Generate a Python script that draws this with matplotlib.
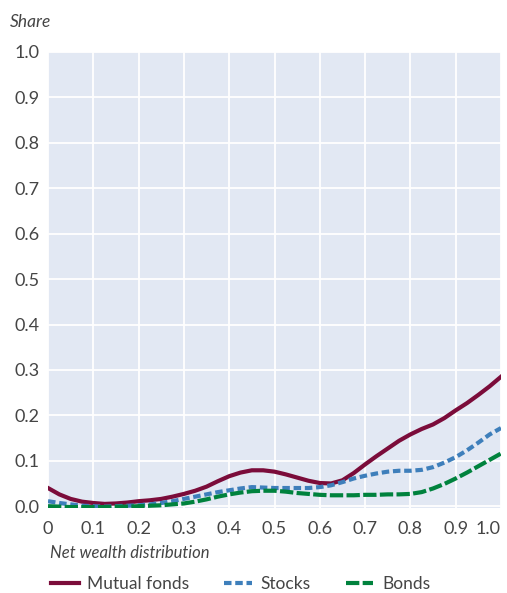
import matplotlib
matplotlib.use("Agg")
import matplotlib.pyplot as plt
from matplotlib.lines import Line2D

x = [0.0, 0.025, 0.05, 0.075, 0.1, 0.125, 0.15, 0.175, 0.2, 0.225,
     0.25, 0.275, 0.3, 0.325, 0.35, 0.375, 0.4, 0.425, 0.45, 0.475,
     0.5, 0.525, 0.55, 0.575, 0.6, 0.625, 0.65, 0.675, 0.7, 0.725,
     0.75, 0.775, 0.8, 0.825, 0.85, 0.875, 0.9, 0.925, 0.95, 0.975, 1.0]
mutual = [0.040, 0.026, 0.016, 0.010, 0.007, 0.005, 0.006, 0.008, 0.011, 0.013,
          0.016, 0.021, 0.027, 0.034, 0.043, 0.055, 0.066, 0.074, 0.079, 0.079,
          0.076, 0.070, 0.063, 0.056, 0.051, 0.050, 0.057, 0.073, 0.092, 0.110,
          0.127, 0.144, 0.158, 0.170, 0.180, 0.194, 0.211, 0.227, 0.245, 0.264, 0.285]
stocks = [0.011, 0.007, 0.004, 0.001, 0.000, -0.001, 0.000, 0.001, 0.002, 0.004,
          0.007, 0.011, 0.016, 0.021, 0.026, 0.031, 0.035, 0.039, 0.042, 0.041,
          0.040, 0.040, 0.040, 0.040, 0.042, 0.046, 0.053, 0.061, 0.067, 0.072,
          0.076, 0.078, 0.078, 0.080, 0.086, 0.096, 0.108, 0.123, 0.140, 0.158, 0.172]
bonds = [0.000, -0.001, -0.002, -0.002, -0.002, -0.002, -0.001, -0.001, 0.000, 0.001,
         0.002, 0.004, 0.006, 0.010, 0.015, 0.021, 0.026, 0.030, 0.033, 0.034,
         0.034, 0.032, 0.029, 0.027, 0.025, 0.024, 0.024, 0.024, 0.025, 0.025,
         0.026, 0.026, 0.027, 0.031, 0.039, 0.049, 0.061, 0.074, 0.088, 0.102, 0.116]

xticks = [0, 0.1, 0.2, 0.3, 0.4, 0.5, 0.6, 0.7, 0.8, 0.9, 1.0]
xlabels = ["0", "0.1", "0.2", "0.3", "0.4", "0.5", "0.6", "0.7", "0.8", "0.9", "1.0"]
yticks = [0, 0.1, 0.2, 0.3, 0.4, 0.5, 0.6, 0.7, 0.8, 0.9, 1.0]

plt.rcParams['font.family'] = ['Lato', 'DejaVu Sans']
txt = '#454545'
c_mut, c_stk, c_bnd = '#7b0c3a', '#3e7fbb', '#00823d'
d_stk, d_bnd = (1.8, 0.9), (3.2, 0.8)

fig = plt.figure(figsize=(5.07, 5.93), dpi=100)
ax = fig.add_axes([48/507, 1-508/593, 453/507, 456/593])
ax.set_facecolor('#e2e8f3')
for s in ax.spines.values():
    s.set_visible(False)

ax.plot(x, mutual, color=c_mut, lw=3.0)
ax.plot(x, stocks, color=c_stk, lw=3.0, dashes=d_stk)
ax.plot(x, bonds, color=c_bnd, lw=3.0, dashes=d_bnd)

ax.set_xlim(0, 1.0)
ax.set_ylim(-0.004, 1.0)
ax.set_xticks(xticks)
ax.set_xticklabels(xlabels)
ax.set_yticks(yticks)
ax.set_yticklabels([f"{v:.1f}" for v in yticks])
ax.grid(True, color='white', lw=1.3)
ax.set_axisbelow(True)
ax.tick_params(length=0, labelsize=13, colors=txt)
ax.tick_params(axis='y', pad=6)
ax.tick_params(axis='x', pad=9)
ax.get_xticklabels()[-1].set_horizontalalignment('right')

fig.text(10/507, 1-22/593, "Share", style='italic', fontsize=12.5, color=txt, va='center')
fig.text(50/507, 1-553/593, "Net wealth distribution", style='italic', fontsize=12,
         color=txt, va='center')

handles = [Line2D([], [], color=c_mut, lw=3.0),
           Line2D([], [], color=c_stk, lw=3.0, dashes=d_stk),
           Line2D([], [], color=c_bnd, lw=3.0, dashes=d_bnd)]
fig.legend(handles, ["Mutual fonds", "Stocks", "Bonds"], loc='center left',
           bbox_to_anchor=(44/507, 1-584/593), ncol=3, frameon=False,
           fontsize=12.5, handlelength=1.6, handletextpad=0.5, columnspacing=2.0,
           labelcolor=txt, borderaxespad=0)

fig.savefig("out.png", dpi=100)
